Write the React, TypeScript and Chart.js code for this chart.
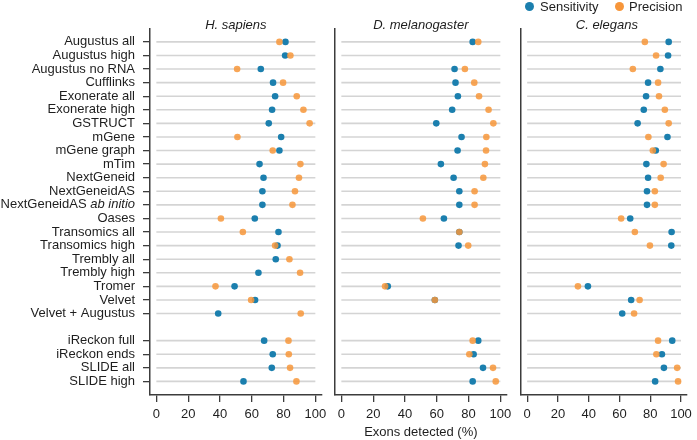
import React, { useEffect, useRef } from 'react';
import { Chart, registerables } from 'chart.js';

Chart.register(...registerables);

// ---------- data ----------
const methods = [
  'Augustus all', 'Augustus high', 'Augustus no RNA', 'Cufflinks', 'Exonerate all',
  'Exonerate high', 'GSTRUCT', 'mGene', 'mGene graph', 'mTim', 'NextGeneid',
  'NextGeneidAS', 'NextGeneidAS ab initio', 'Oases', 'Transomics all', 'Transomics high',
  'Trembly all', 'Trembly high', 'Tromer', 'Velvet', 'Velvet + Augustus',
  'iReckon full', 'iReckon ends', 'SLIDE all', 'SLIDE high',
];
const firstGroupSize = 21; // a blank slot separates the two groups
const italicLabel = { index: 12, plain: 'NextGeneidAS ', italic: 'ab initio' };

const speciesTitles = ['H. sapiens', 'D. melanogaster', 'C. elegans'];

const hsSensitivity = [81.2, 81, 65.7, 73.4, 74.7, 72.8, 70.7, 78.5, 77.4, 64.9, 67.4, 66.7, 66.7, 61.9, 76.8, 76.2, 75.1, 64.2, 49.2, 62.1, 38.9, 67.8, 73.2, 72.6, 54.8];
const hsPrecision = [77.4, 84.3, 50.8, 79.7, 88.3, 92.5, 96.4, 51, 73.2, 90.6, 89.7, 87.2, 85.6, 40.6, 54.4, 74.7, 83.7, 90.4, 37.2, 59.6, 90.8, 83.1, 83.3, 84.1, 88.1];

const dmSensitivity = [82.6, null, 71.2, 71.8, 73.3, 69.7, 59.7, 75.6, 73.1, 62.6, 70.6, 74.2, 74.2, 64.5, 74.2, 73.7, null, null, 29.2, 58.8, null, 86.1, 83.2, 89.1, 82.6];
const dmPrecision = [86.1, null, 77.7, 83.6, 86.6, 92.6, 95.6, 91.2, 91, 90.3, 89.3, 83.8, 83.8, 51.3, 74.2, 79.8, null, null, 27.5, 58.8, null, 82.6, 80.5, 95.4, 97.1];

const ceSensitivity = [92, 91.6, 86.6, 78.6, 77.3, 75.8, 71.8, 91.2, 83.6, 77.5, 78.6, 77.9, 77.9, 67, 93.9, 93.7, null, null, 39.5, 67.6, 61.8, 94.3, 87.6, 88.9, 83.2];
const cePrecision = [76.5, 83.8, 68.7, 85.1, 85.7, 89.5, 92, 78.8, 81.7, 88.7, 86.8, 83, 83, 61.1, 70, 79.8, null, null, 33, 73.1, 69.5, 85.1, 84, 97.5, 98.1];

const sensitivitySeries = [hsSensitivity, dmSensitivity, ceSensitivity];
const precisionSeries = [hsPrecision, dmPrecision, cePrecision];

const xTicks = [0, 20, 40, 60, 80, 100];
const xAxisTitle = 'Exons detected (%)';
const legendLabels = ['Sensitivity', 'Precision'];

// ---------- style ----------
const BLUE = 'rgb(27,127,174)';
const ORANGE = 'rgba(247,150,58,0.85)';
const ORANGE_SOLID = 'rgb(247,150,58)';
const GRID = 'rgb(212,212,212)';
const AXIS = 'rgb(60,60,60)';
const TEXT = '#1e1e1e';
const FONT = "'Liberation Sans', Arial, sans-serif";

const rowPos = (i: number) => (i < firstGroupSize ? i : i + 1);

// panel geometry: canvas left / width, y-axis width, right padding
const panels = [
  { left: 0, width: 335, axisW: 150, padR: 13.3 },
  { left: 330, width: 190, axisW: 5, padR: 13.3 },
  { left: 510, width: 187, axisW: 11, padR: 4.3 },
];
const TOP = 28.3;
const XAXIS_H = 45;
const TICK_LEN = 7;
const Y_PAD = 8;

function buildConfig(pi: number): any {
  const datasets: any[] = [];
  methods.forEach((_, i) => {
    const y = rowPos(i);
    datasets.push({
      label: 'grid' + i,
      data: [{ x: 0, y }, { x: 100, y }],
      showLine: true,
      borderColor: GRID,
      borderWidth: 1.6,
      pointRadius: 0,
      order: 3,
    });
  });
  const toPts = (arr: (number | null)[]) =>
    arr.map((v, i) => (v == null ? null : { x: v, y: rowPos(i) })).filter((p) => p !== null);
  datasets.push({
    label: legendLabels[0],
    data: toPts(sensitivitySeries[pi]),
    backgroundColor: BLUE,
    borderWidth: 0,
    pointRadius: 3.3,
    order: 2,
  });
  datasets.push({
    label: legendLabels[1],
    data: toPts(precisionSeries[pi]),
    backgroundColor: ORANGE,
    borderWidth: 0,
    pointRadius: 3.3,
    order: 1,
  });

  const p = panels[pi];
  const first = pi === 0;

  const italicPlugin = {
    id: 'italicPart',
    afterDraw(chart: any) {
      if (!first) return;
      const ys = chart.scales.y;
      const ctx = chart.ctx;
      const yPix = ys.getPixelForValue(rowPos(italicLabel.index));
      const right = ys.right - TICK_LEN - Y_PAD;
      ctx.save();
      ctx.fillStyle = TEXT;
      ctx.textBaseline = 'middle';
      ctx.textAlign = 'right';
      ctx.font = `italic 13px ${FONT}`;
      ctx.fillText(italicLabel.italic, right, yPix);
      const w = ctx.measureText(italicLabel.italic).width;
      ctx.font = `13px ${FONT}`;
      ctx.fillText(italicLabel.plain, right - w, yPix);
      ctx.restore();
    },
  };

  return {
    type: 'scatter',
    data: { datasets },
    plugins: [italicPlugin],
    options: {
      animation: false,
      responsive: false,
      events: [],
      layout: { padding: { left: 0, right: p.padR, top: TOP, bottom: 0 } },
      plugins: { legend: { display: false }, tooltip: { enabled: false }, title: { display: false } },
      scales: {
        x: {
          type: 'linear',
          min: -4,
          max: 104,
          afterBuildTicks: (s: any) => { s.ticks = xTicks.map((v) => ({ value: v })); },
          afterFit: (s: any) => { s.height = XAXIS_H; },
          grid: { display: true, drawOnChartArea: false, drawTicks: true, tickLength: TICK_LEN, color: AXIS, lineWidth: 1.3 },
          border: { display: true, color: AXIS, width: 1.5 },
          ticks: { color: TEXT, font: { family: FONT, size: 13 }, padding: 5, maxRotation: 0, autoSkip: false },
          title: {
            display: pi === 1,
            text: xAxisTitle,
            color: TEXT,
            font: { family: FONT, size: 13 },
            padding: { top: 0, bottom: 0 },
          },
        },
        y: {
          type: 'linear',
          reverse: true,
          min: -1,
          max: 26,
          afterBuildTicks: (s: any) => { s.ticks = methods.map((_, i) => ({ value: rowPos(i) })); },
          afterFit: (s: any) => { s.width = p.axisW; },
          grid: { display: true, drawOnChartArea: false, drawTicks: first, tickLength: TICK_LEN, color: AXIS, lineWidth: 1.3 },
          border: { display: true, color: AXIS, width: 1.5 },
          ticks: {
            display: first,
            autoSkip: false,
            color: TEXT,
            padding: Y_PAD,
            font: { family: FONT, size: 13 },
            callback: (_v: any, idx: number) => (idx === italicLabel.index ? '' : methods[idx]),
          },
        },
      },
    },
  };
}

function Panel({ pi }: { pi: number }) {
  const ref = useRef<HTMLCanvasElement>(null);
  useEffect(() => {
    if (!ref.current) return;
    const chart = new Chart(ref.current, buildConfig(pi));
    return () => chart.destroy();
  }, [pi]);
  const p = panels[pi];
  return (
    <canvas
      ref={ref}
      width={p.width}
      height={440}
      style={{ position: 'absolute', left: p.left, top: 0, width: p.width, height: 440 }}
    />
  );
}

export default function App() {
  const titleCenters = panels.map((p) => {
    const l = p.left + p.axisW;
    const r = p.left + p.width - p.padR;
    return (l + r) / 2;
  });
  const dot = (color: string, cx: number) => (
    <div
      style={{
        position: 'absolute', left: cx - 4.5, top: 2.2, width: 9, height: 9,
        borderRadius: '50%', background: color,
      }}
    />
  );
  return (
    <div style={{ position: 'fixed', left: 0, top: 0, width: 697, height: 440, background: '#fff', overflow: 'hidden', fontFamily: FONT }}>
      {panels.map((_, i) => <Panel key={i} pi={i} />)}
      {speciesTitles.map((t, i) => (
        <div
          key={t}
          style={{
            position: 'absolute', left: titleCenters[i] - 80, width: 160, top: 17, height: 16,
            lineHeight: '16px', textAlign: 'center', fontStyle: 'italic', fontSize: 13, color: TEXT,
          }}
        >
          {t}
        </div>
      ))}
      {dot(BLUE, 529)}
      <div style={{ position: 'absolute', left: 540, top: -1, lineHeight: '16px', fontSize: 13, color: TEXT }}>{legendLabels[0]}</div>
      {dot(ORANGE_SOLID, 619)}
      <div style={{ position: 'absolute', left: 629, top: -1, lineHeight: '16px', fontSize: 13, color: TEXT }}>{legendLabels[1]}</div>
    </div>
  );
}
